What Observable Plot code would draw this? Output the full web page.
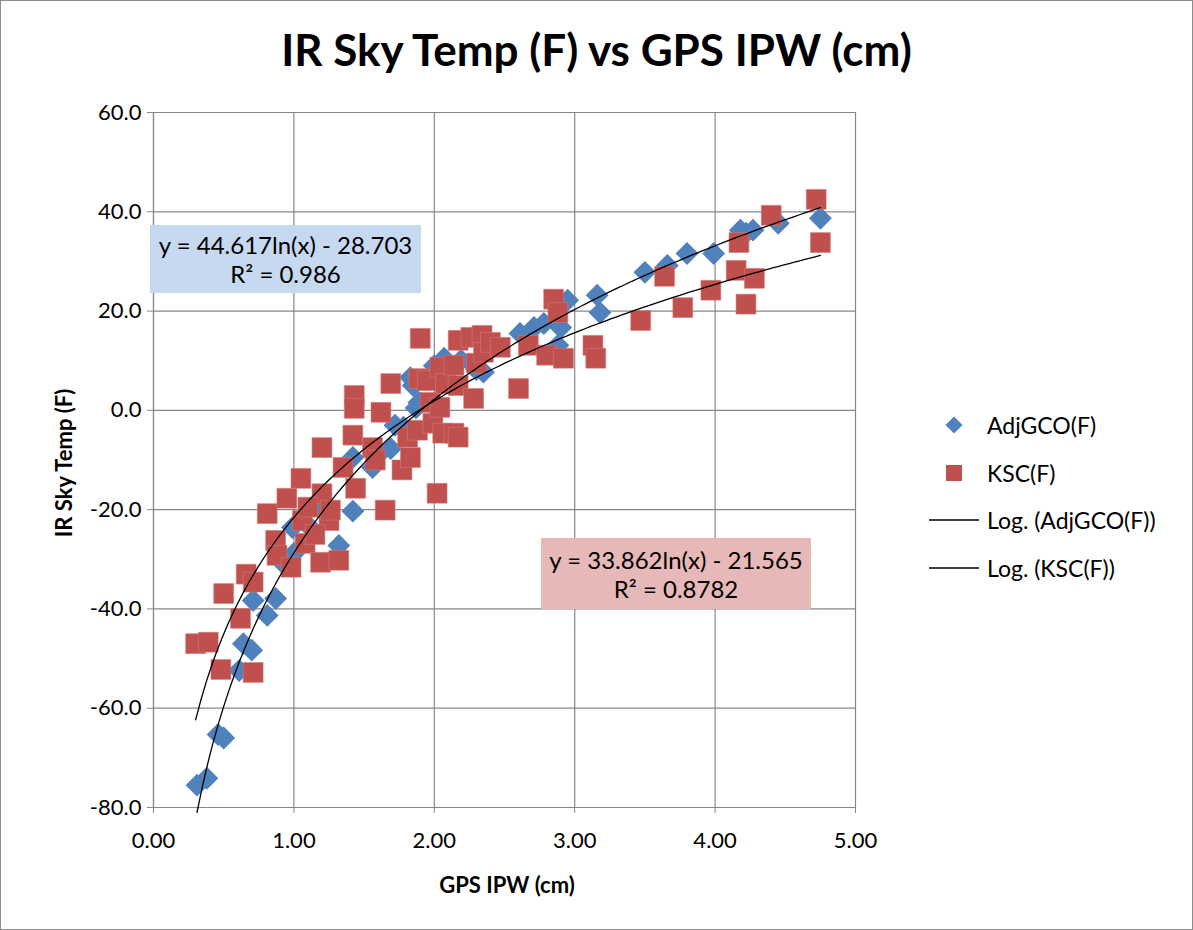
<!DOCTYPE html>
<html>
<head>
<meta charset="utf-8">
<script src="https://cdn.jsdelivr.net/npm/d3@7"></script>
<script src="https://cdn.jsdelivr.net/npm/@observablehq/plot@0.6"></script>
<style>
  body { margin: 0; background: #fff; }
  #chart { position: relative; width: 1193px; height: 930px; box-sizing: border-box; border: 1px solid #8c8c8c; font-family: Lato, "Open Sans", sans-serif; color: #000; overflow: hidden; background: #fff; }
  #title { position: absolute; left: 0; top: 20px; width: 100%; text-align: center; font-weight: bold; font-size: 44px; line-height: 56px; }
  #plot { position: absolute; left: 0; top: 79px; }
  .ytitle { position: absolute; left: 62px; top: 462px; transform: translate(-50%, -50%) rotate(-90deg); font-weight: bold; font-size: 22px; white-space: nowrap; }
  .xtitle { position: absolute; left: 506px; top: 883px; transform: translate(-50%, -50%); font-weight: bold; font-size: 22px; white-space: nowrap; }
  .eq { position: absolute; display: flex; flex-direction: column; justify-content: center; align-items: center; font-size: 24px; line-height: 29px; white-space: nowrap; }
  .legend { position: absolute; left: 926px; top: 408px; font-size: 23px; }
  .legend .item { position: absolute; left: 0; height: 32px; display: flex; align-items: center; white-space: nowrap; }
  .legend .item svg { margin-right: 6px; }
</style>
</head>
<body>
<div id="chart">
  <div id="title">IR Sky Temp (F) vs GPS IPW (cm)</div>
  <div id="plot"></div>
  <div class="ytitle">IR Sky Temp (F)</div>
  <div class="xtitle">GPS IPW (cm)</div>
  <div id="eq1" class="eq"></div>
  <div id="eq2" class="eq"></div>
  <div class="legend" id="legend"></div>
</div>
<script>
// ---- data ----
const adjX = [0.31,0.38,0.46,0.50,0.61,0.64,0.70,0.71,0.81,0.87,0.93,0.99,1.00,1.13,1.20,1.32,1.42,1.42,1.56,1.60,1.69,1.72,1.78,1.83,1.85,1.87,1.89,1.90,2.00,2.07,2.19,2.28,2.30,2.35,2.61,2.71,2.78,2.88,2.90,2.95,3.16,3.18,3.50,3.66,3.80,3.99,4.18,4.27,4.45,4.75,4.22];
const adjY = [-75.5,-74.1,-65.3,-66.0,-52.4,-47.0,-48.3,-38.3,-41.3,-37.9,-31.0,-23.6,-28.8,-24.0,-20.0,-27.2,-20.3,-9.5,-11.5,-9.0,-7.7,-3.0,-3.4,6.6,5.0,0.5,1.6,1.4,9.0,10.5,10.1,9.1,8.2,7.7,15.5,16.7,17.5,13.1,16.7,22.2,23.2,19.7,27.8,29.2,31.6,31.6,36.3,36.3,37.7,38.7,35.7];
const kscX = [0.30,0.39,0.48,0.50,0.62,0.66,0.71,0.71,0.81,0.87,0.88,0.95,0.98,1.05,1.06,1.08,1.19,1.20,1.20,1.25,1.26,1.32,1.35,1.42,1.43,1.43,1.44,1.56,1.58,1.62,1.65,1.69,1.77,1.81,1.83,1.88,1.89,1.90,1.95,1.97,1.99,2.02,2.04,2.04,2.06,2.08,2.14,2.14,2.17,2.17,2.17,2.26,2.28,2.30,2.34,2.35,2.40,2.47,2.60,2.67,2.80,2.92,2.85,2.88,3.13,3.15,3.47,3.64,3.77,3.97,4.15,4.17,4.22,4.28,4.40,4.72,4.75,1.10,1.15];
const kscY = [-47.0,-46.7,-52.2,-36.9,-41.9,-33.0,-34.6,-52.8,-20.8,-26.2,-29.2,-17.7,-31.6,-13.7,-22.2,-26.8,-30.6,-7.5,-16.8,-22.2,-20.1,-30.2,-11.5,-5.0,3.0,0.4,-15.7,-7.5,-10.0,-0.4,-20.1,5.4,-12.0,-5.4,-9.5,-4.0,6.4,14.5,6.0,1.6,-2.6,-16.7,0.6,8.7,-4.6,5.4,9.1,-4.6,14.1,5.0,-5.4,14.7,2.4,9.5,15.1,11.7,13.7,12.7,4.4,13.1,11.1,10.5,22.4,19.7,13.1,10.5,18.1,27.0,20.7,24.2,28.2,33.8,21.4,26.6,39.3,42.5,33.8,-19.5,-25.0];

// trendline coefficients y = a ln(x) + b (as shown on the chart)
const trendNames = ["Log. (AdjGCO(F))", "Log. (KSC(F))"];
const trendA = [44.617, 33.862];
const trendB = [-28.703, -21.565];
const trendR2 = ["0.986", "0.8782"];

const xTicks = [0, 1, 2, 3, 4, 5];
const yTicks = [-80, -60, -40, -20, 0, 20, 40, 60];
const seriesNames = ["AdjGCO(F)", "KSC(F)"];
const colors = ["#4F81BD", "#C0504D"];

// ---- build tables ----
const adj = adjX.map((x, i) => ({x, y: adjY[i]}));
const ksc = kscX.map((x, i) => ({x, y: kscY[i]}));
function trend(xs, k) {
  const lo = d3.min(xs), hi = d3.max(xs);
  const n = 120;
  return d3.range(n + 1).map(i => {
    const x = lo + (hi - lo) * i / n;
    return {x, y: trendA[k] * Math.log(x) + trendB[k]};
  });
}
const t1 = trend(adjX, 0), t2 = trend(kscX, 1);

const gridColor = "#878787";
const plot = Plot.plot({
  width: 1191,
  height: 850,
  marginLeft: 152,
  marginRight: 337,
  marginTop: 32,
  marginBottom: 123,
  style: {fontFamily: "Lato, 'Open Sans', sans-serif", fontSize: "22px", color: "#000", background: "transparent"},
  x: {domain: [0, 5]},
  y: {domain: [-80, 60]},
  marks: [
    Plot.gridX(xTicks, {stroke: gridColor, strokeOpacity: 1, strokeWidth: 1.2}),
    Plot.gridY(yTicks, {stroke: gridColor, strokeOpacity: 1, strokeWidth: 1.2}),
    Plot.axisX({ticks: xTicks, tickFormat: d => d.toFixed(2), tickSize: 6, tickPadding: 19, label: null, stroke: gridColor}),
    Plot.axisY({ticks: yTicks, tickFormat: d => d.toFixed(1), tickSize: 6, tickPadding: 6, label: null, stroke: gridColor}),
    Plot.ruleX([0], {stroke: gridColor, strokeWidth: 1.2}),
    Plot.ruleY([-80], {stroke: gridColor, strokeWidth: 1.2}),
    Plot.dot(adj, {x: "x", y: "y", symbol: "diamond2", r: 10.3, fill: colors[0], stroke: "none"}),
    Plot.dot(ksc, {x: "x", y: "y", symbol: "square", r: 11.2, fill: colors[1], stroke: "#d27a78", strokeWidth: 0.6}),
    Plot.line(t1, {x: "x", y: "y", stroke: "#000", strokeWidth: 1.3}),
    Plot.line(t2, {x: "x", y: "y", stroke: "#000", strokeWidth: 1.3})
  ]
});
document.getElementById("plot").appendChild(plot);

// equation labels
function eqText(k) {
  const b = trendB[k];
  return `<div>y = ${trendA[k].toFixed(3)}ln(x) ${b < 0 ? "-" : "+"} ${Math.abs(b).toFixed(3)}</div><div>R² = ${trendR2[k]}</div>`;
}
const e1 = document.getElementById("eq1");
e1.innerHTML = eqText(0);
Object.assign(e1.style, {left: "149px", top: "224px", width: "271px", height: "68px", background: "#C6D9F1"});
const e2 = document.getElementById("eq2");
e2.innerHTML = eqText(1);
Object.assign(e2.style, {left: "540px", top: "537px", width: "270px", height: "71px", background: "#E6B9B8"});

// legend
const leg = document.getElementById("legend");
const items = [
  {label: seriesNames[0], sym: `<svg width="54" height="24"><rect x="21" y="6" width="12" height="12" fill="${colors[0]}" transform="rotate(45 27 12)"/></svg>`},
  {label: seriesNames[1], sym: `<svg width="54" height="24"><rect x="19" y="4" width="16" height="16" fill="${colors[1]}"/></svg>`},
  {label: trendNames[0], sym: `<svg width="54" height="24"><line x1="2" x2="52" y1="12" y2="12" stroke="#000" stroke-width="1.3"/></svg>`},
  {label: trendNames[1], sym: `<svg width="54" height="24"><line x1="2" x2="52" y1="12" y2="12" stroke="#000" stroke-width="1.3"/></svg>`}
];
items.forEach((it, i) => {
  const d = document.createElement("div");
  d.className = "item";
  d.style.top = (i * 47.7) + "px";
  d.innerHTML = it.sym + `<span>${it.label}</span>`;
  leg.appendChild(d);
});
</script>
</body>
</html>
